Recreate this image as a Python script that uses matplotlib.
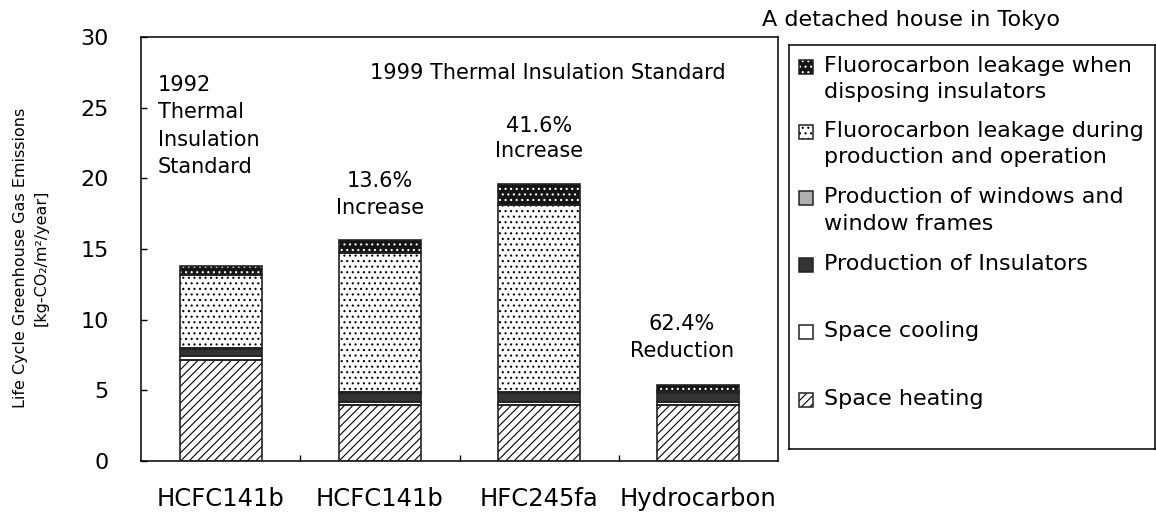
import matplotlib
matplotlib.use("Agg")
import matplotlib.pyplot as plt
from matplotlib.patches import Rectangle
import numpy as np

# data (kg-CO2/m2/year)
categories = ["HCFC141b", "HCFC141b", "HFC245fa", "Hydrocarbon"]
space_heating = [7.15, 3.96, 3.96, 3.96]
space_cooling = [0.28, 0.24, 0.24, 0.24]
insulators = [0.50, 0.63, 0.63, 0.60]
windows = [0.07, 0.07, 0.07, 0.15]
leak_production = [5.16, 9.80, 13.22, 0.0]
leak_disposal = [0.66, 0.94, 1.46, 0.43]

series_labels = [
    "Space heating",
    "Space cooling",
    "Production of Insulators",
    "Production of windows and\nwindow frames",
    "Fluorocarbon leakage during\nproduction and operation",
    "Fluorocarbon leakage when\ndisposing insulators",
]
series_values = [space_heating, space_cooling, insulators, windows,
                 leak_production, leak_disposal]
# (facecolor, hatch colour, hatch)
styles = [
    ("white", "black", "////"),
    ("white", "black", ""),
    ("#333333", "#333333", ""),
    ("#b0b0b0", "#b0b0b0", ""),
    ("white", "black", "..."),
    ("#151515", "white", "..."),
]

plt.rcParams["font.family"] = ["DejaVu Sans"]
plt.rcParams["hatch.linewidth"] = 0.8

fig = plt.figure(figsize=(11.56, 5.15), dpi=100)
ax = fig.add_axes([141 / 1156, 54 / 515, 637 / 1156, 424 / 515])

x = np.arange(len(categories))
width = 0.515
bottom = np.zeros(len(categories))
for vals, (fc, hc, hatch) in zip(series_values, styles):
    vals = np.array(vals)
    ax.bar(x, vals, width, bottom=bottom, color=fc, edgecolor=hc,
           hatch=hatch, linewidth=0, zorder=2)
    ax.bar(x, vals, width, bottom=bottom, fill=False, edgecolor="#222222",
           linewidth=1.2, zorder=3)
    bottom += vals

ax.set_xlim(-0.5, 3.5)
ax.set_ylim(0, 30)
ax.set_yticks(range(0, 31, 5))
ax.set_xticks(x)
ax.set_xticklabels(categories, fontsize=17.5)
ax.set_xticks([0.5, 1.5, 2.5], minor=True)
ax.tick_params(axis="x", which="major", length=0, pad=19)
ax.tick_params(axis="x", which="minor", direction="in", length=4.5, width=1)
ax.tick_params(axis="y", direction="in", length=4.5, width=1, pad=23,
               labelsize=16)
for s in ax.spines.values():
    s.set_linewidth(1.1)

ax.set_ylabel("Life Cycle Greenhouse Gas Emissions\n[kg-CO\u2082/m\u00b2/year]",
              fontsize=11.5, linespacing=1.5)
ax.yaxis.set_label_coords(-0.145, 0.48)

ax.text(-0.393, 23.7, "1992\nThermal\nInsulation\nStandard", fontsize=15,
        ha="left", va="center", linespacing=1.45)
ax.text(0.938, 27.46, "1999 Thermal Insulation Standard", fontsize=15,
        ha="left", va="center")
ax.text(1.0, 18.83, "13.6%\nIncrease", fontsize=15, ha="center",
        va="center", linespacing=1.45)
ax.text(2.0, 22.8, "41.6%\nIncrease", fontsize=15, ha="center",
        va="center", linespacing=1.3)
ax.text(2.897, 8.75, "62.4%\nReduction", fontsize=15, ha="center",
        va="center", linespacing=1.45)

# legend drawn by hand so markers sit on the first line of each entry
lax = fig.add_axes([789 / 1156, 66 / 515, 366 / 1156, 404 / 515])
lax.set_xlim(789, 1155)
lax.set_ylim(449, 45)
lax.set_xticks([])
lax.set_yticks([])
for s in lax.spines.values():
    s.set_linewidth(1.1)

entry_y = [400, 331.7, 265, 198.3, 131.7, 66.7]
for label, (fc, hc, hatch), yy in zip(series_labels, styles, entry_y):
    lax.add_patch(Rectangle((799, yy - 7), 14, 14, facecolor=fc,
                            edgecolor=hc, hatch=hatch, linewidth=0))
    lax.add_patch(Rectangle((799, yy - 7), 14, 14, fill=False,
                            edgecolor="#222222", linewidth=1.1))
    lax.text(824, yy - 11, label, fontsize=16, ha="left", va="top",
             linespacing=1.4)

fig.text(762 / 1156, 1 - 20 / 515, "A detached house in Tokyo", fontsize=16,
         ha="left", va="center")

fig.savefig("out.png", dpi=100, facecolor="white")
